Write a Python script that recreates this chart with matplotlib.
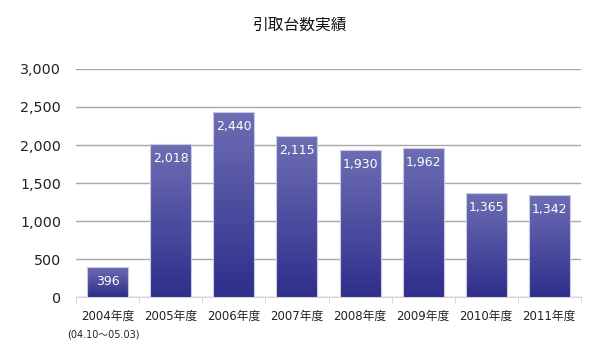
import numpy as np
import matplotlib.pyplot as plt
import matplotlib.ticker as ticker
from matplotlib.colors import LinearSegmentedColormap
from matplotlib.patches import Rectangle

# DejaVu first for the wide digits, Noto for the kanji
plt.rcParams['font.family'] = ['DejaVu Sans', 'Noto Sans CJK JP']

years = ['2004年度', '2005年度', '2006年度', '2007年度',
         '2008年度', '2009年度', '2010年度', '2011年度']
counts = [396, 2018, 2440, 2115, 1930, 1962, 1365, 1342]
first_note = '(04.10～05.03)'
title = '引取台数実績'

# vertical gradient used to fill each bar, light at the top
grad = LinearSegmentedColormap.from_list('bar', ['#2e2e8c', '#6e6eb4'])

fig = plt.figure(figsize=(6, 3.5), dpi=100)
ax = fig.add_axes([0.127, 0.151, 0.841, 0.652])

width = 0.65
x = np.arange(len(years))

for xi, val in zip(x, counts):
    left = xi - width / 2
    img = np.linspace(0, 1, 256).reshape(-1, 1)
    im = ax.imshow(img, cmap=grad, origin='lower', aspect='auto',
                   extent=[left, left + width, 0, val], zorder=3)
    rect = Rectangle((left, 0), width, val, facecolor='none',
                     edgecolor='#c9c9e6', linewidth=0.8, zorder=4)
    ax.add_patch(rect)
    im.set_clip_path(rect)
    ax.annotate(f'{val:,}', (xi, val), xytext=(0, -10.5),
                textcoords='offset points', ha='center', va='center',
                color='white', fontsize=9, zorder=5)

ax.set_xlim(-0.5, len(years) - 0.5)
ax.set_ylim(0, 3000)

ax.yaxis.set_major_locator(ticker.MultipleLocator(500))
ax.yaxis.set_major_formatter(ticker.FuncFormatter(lambda v, p: f'{int(v):,}'))
ax.grid(axis='y', color='#a8a8a8', linewidth=1, zorder=0)
ax.set_axisbelow(True)
for s in ['top', 'right', 'left']:
    ax.spines[s].set_visible(False)
ax.spines['bottom'].set_color('#d4d4d4')
ax.tick_params(axis='y', length=0, labelsize=10.3, pad=10.8, colors='#222222')

ax.set_xticks(x)
ax.set_xticklabels(years, fontsize=8.5, color='#222222')
ax.tick_params(axis='x', length=0, pad=9)
ax.set_xticks(np.arange(len(years) + 1) - 0.5, minor=True)
ax.tick_params(axis='x', which='minor', length=4, color='#d4d4d4')

ax.text(-0.07, -0.165, first_note, transform=ax.get_xaxis_transform(),
        ha='center', va='center', fontsize=7, color='#222222')

fig.text(0.5, 0.929, title, ha='center', va='center', fontsize=11.3,
         color='#111111', family=['Noto Sans CJK JP', 'DejaVu Sans'])

fig.savefig('out.png', dpi=100)
